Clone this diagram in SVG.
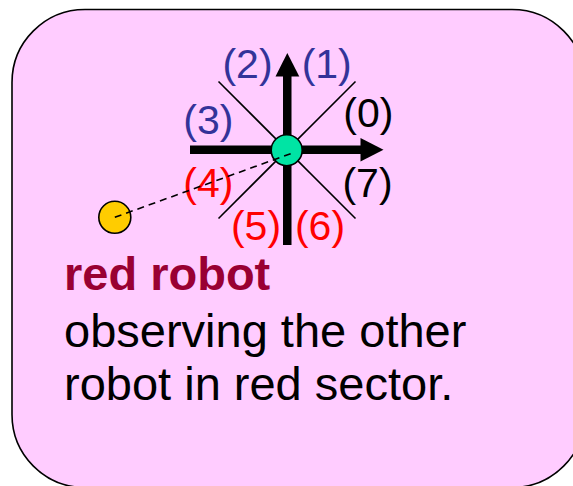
<svg xmlns="http://www.w3.org/2000/svg" width="573" height="486" viewBox="0 0 573 486">
<style>
.lbl{font-family:"Liberation Sans",Arial,sans-serif;font-size:41px;text-anchor:middle}
.blue{fill:#333399}
.red{fill:#FF0000}
.blk{fill:#000000}
.diag{stroke:#000;stroke-width:1.6;fill:none}
.body{font-family:"Liberation Sans",Arial,sans-serif;font-size:47px;fill:#000}
</style>
<rect width="573" height="486" fill="#FFFFFF"/>
<g id="panel">
<rect x="12" y="9.5" width="573" height="478" rx="73" ry="73" fill="#FFCCFF" stroke="#000" stroke-width="1.6"/>
</g>
<g id="compass">
<line class="diag" x1="218.5" y1="81.5" x2="355.5" y2="218.5"/>
<line class="diag" x1="355.5" y1="81.5" x2="218.5" y2="218.5"/>
<rect x="190" y="145.5" width="172" height="8.5" fill="#000"/>
<polygon points="360.5,138 383.5,149.7 360.5,161.5" fill="#000"/>
<rect x="283" y="75" width="8.5" height="170" fill="#000"/>
<polygon points="275.5,76.5 287.3,53 299.3,76.5" fill="#000"/>
</g>
<g id="observer">
<circle cx="286.7" cy="150.2" r="15.5" fill="#00E4A4" stroke="#000" stroke-width="1.6"/>
</g>
<g id="other-robot">
<circle cx="114.8" cy="217.3" r="16" fill="#FFCC00" stroke="#000" stroke-width="1.6"/>
</g>
<g id="sector-labels">
<text class="lbl blue" x="247.5" y="77.5">(2)</text>
<text class="lbl blue" x="326.7" y="77.5">(1)</text>
<text class="lbl blue" x="208.3" y="133.5">(3)</text>
<text class="lbl blk" x="368.3" y="126.5">(0)</text>
<text class="lbl blk" x="367.5" y="196.5">(7)</text>
<text class="lbl red" x="208.3" y="196.5">(4)</text>
<text class="lbl red" x="256" y="239.5">(5)</text>
<text class="lbl red" x="320" y="239.5">(6)</text>
</g>
<g id="connectors">
<line x1="114.8" y1="217.3" x2="291.7" y2="153.3" stroke="#000" stroke-width="1.6" stroke-dasharray="7,5"/>
</g>
<g id="caption">
<text x="64" y="289.5" style="font-family:'Liberation Sans',Arial,sans-serif;font-size:47px;font-weight:bold;fill:#990033">red robot</text>
<text class="body" x="64" y="346.5">observing the other</text>
<text class="body" x="64" y="399.5">robot in red sector.</text>
</g>
</svg>
